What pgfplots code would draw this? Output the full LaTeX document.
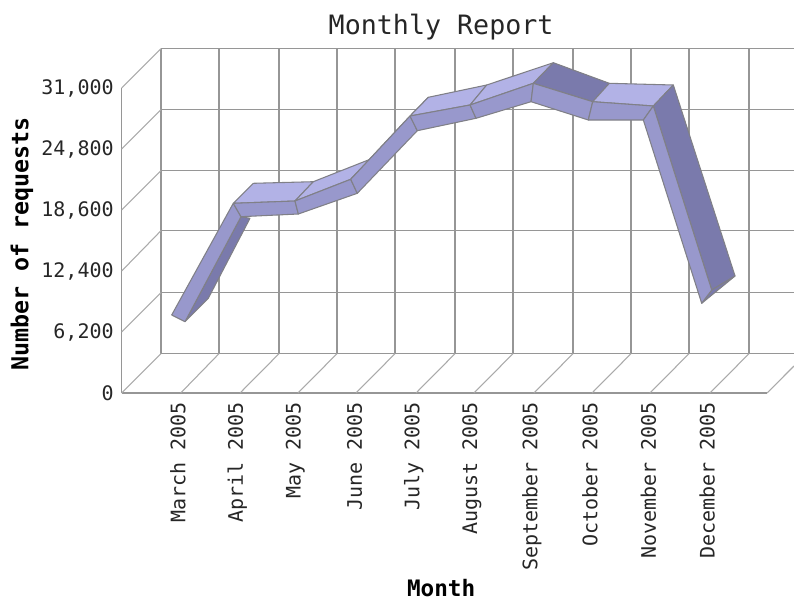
\documentclass[border=0pt]{standalone}
\usepackage{fontspec}
\setmainfont{DejaVu Sans Mono}
\usepackage{pgfplots}
\pgfplotsset{compat=1.18}

\definecolor{gridline}{RGB}{150,150,150}
\definecolor{gridthin}{RGB}{170,170,170}
\definecolor{ribedge}{RGB}{128,128,135}
\definecolor{riblight}{RGB}{178,178,230}
\definecolor{ribmid}{RGB}{152,152,204}
\definecolor{ribdark}{RGB}{122,122,172}

\pgfplotsset{
  light/.style={fill=riblight, draw=ribedge, line width=0.8pt, line join=round, mark=none},
  mid/.style={fill=ribmid, draw=ribedge, line width=0.8pt, line join=round, mark=none},
  dark/.style={fill=ribdark, draw=ribedge, line width=0.8pt, line join=round, mark=none},
}

\begin{document}
\begin{tikzpicture}
\begin{axis}[
    scale only axis,
    width=483.98pt, height=228.75pt,
    xmin=0, xmax=11, ymin=0, ymax=31000,
    clip=false,
    axis x line=bottom, axis y line=left,
    axis line style={gridline, line width=1.1pt, -},
    tick style={draw=none},
    major tick length=0pt,
    unbounded coords=jump,
    ytick={0,6200,12400,18600,24800,31000},
    scaled y ticks=false,
    yticklabel={\pgfmathprintnumber[fixed, precision=0, 1000 sep={,}, assume math mode=true]{\tick}},
    yticklabel style={font=\fontsize{15}{17}\selectfont, text=black!85, xshift=-2.5pt},
    xtick={0.96,1.97,2.96,3.97,4.98,5.97,6.99,7.98,8.98,9.98},
    xticklabels={March 2005,April 2005,May 2005,June 2005,July 2005,August 2005,September 2005,October 2005,November 2005,December 2005},
    xticklabel style={rotate=90, anchor=east, font=\fontsize{15}{17}\selectfont, text=black!85, xshift=-3.5pt},
    title={Monthly Report},
    title style={at={(axis description cs:0.495,1.174)}, anchor=center, font=\fontsize{20}{23}\selectfont, text=black!85},
    xlabel={Month},
    xlabel style={at={(axis description cs:0.495,-0.64)}, anchor=center, font=\fontsize{17}{20}\selectfont\bfseries},
    ylabel={Number of requests},
    ylabel style={at={(axis description cs:-0.1545,0.489)}, anchor=center, font=\fontsize{17.5}{20}\selectfont\bfseries},
]

% back wall, horizontals
\addplot[gridline, line width=1.1pt, mark=none] table {
0.67 35000
11.46 35000
0.67 nan
0.67 28800
11.46 28800
0.67 nan
0.67 22600
11.46 22600
0.67 nan
0.67 16500
11.46 16500
0.67 nan
0.67 10200
11.46 10200
0.67 nan
0.67 4000
11.46 4000
};
% back wall, verticals
\addplot[gridline, line width=1.1pt, mark=none] table {
0.67 4000
0.67 35000
0.67 nan
1.659 4000
1.659 35000
1.659 nan
2.682 4000
2.682 35000
2.682 nan
3.670 4000
3.670 35000
3.670 nan
4.659 4000
4.659 35000
4.659 nan
5.682 4000
5.682 35000
5.682 nan
6.670 4000
6.670 35000
6.670 nan
7.693 4000
7.693 35000
7.693 nan
8.682 4000
8.682 35000
8.682 nan
9.670 4000
9.670 35000
9.670 nan
10.693 4000
10.693 35000
};
% side wall diagonals
\addplot[gridthin, line width=0.8pt, mark=none] table {
0 31000
0.67 35000
0 nan
0 24800
0.67 28800
0 nan
0 18600
0.67 22600
0 nan
0 12400
0.67 16500
0 nan
0 6200
0.67 10200
0 nan
0 0
0.67 4000
};
% floor diagonals
\addplot[gridthin, line width=0.8pt, mark=none] table {
1.006 0
1.659 4000
1.006 nan
2.017 0
2.682 4000
2.017 nan
3.005 0
3.670 4000
3.005 nan
3.994 0
4.659 4000
3.994 nan
5.017 0
5.682 4000
5.017 nan
6.005 0
6.670 4000
6.005 nan
7.028 0
7.693 4000
7.028 nan
8.017 0
8.682 4000
8.017 nan
9.005 0
9.670 4000
9.005 nan
10.028 0
10.693 4000
10.028 nan
11 0
11.46 2744
};

% ribbon: underside and upper faces, left to right
\addplot[dark] coordinates {(1.079,7247) (1.476,9625) (2.187,17756) (2.034,17919) (1.079,7247)};
\addplot[light] coordinates {(1.902,19281) (2.243,21314) (3.266,21476) (2.954,19515) (1.902,19281)};
\addplot[light] coordinates {(2.954,19515) (3.266,21476) (4.233,23753) (3.904,21720) (2.954,19515)};
\addplot[light] coordinates {(3.904,21720) (4.233,23753) (5.227,30055) (4.915,28154) (3.904,21720)};
\addplot[light] coordinates {(4.915,28154) (5.227,30055) (6.222,31305) (5.938,29272) (4.915,28154)};
\addplot[light] coordinates {(5.938,29272) (6.222,31305) (7.358,33572) (7.017,31478) (5.938,29272)};
\addplot[dark] coordinates {(7.017,31478) (7.358,33572) (8.312,31478) (8.029,29608) (7.017,31478)};
\addplot[light] coordinates {(8.029,29608) (8.312,31478) (9.403,31305) (9.062,29171) (8.029,29608)};
\addplot[dark] coordinates {(9.062,29171) (9.403,31305) (10.455,11892) (10.058,10469) (9.062,29171)};
\addplot[dark] coordinates {(9.887,9117) (10.058,10469) (10.455,11892) (9.887,9117)};

% ribbon: front faces
\addplot[mid] coordinates {(0.852,7928) (1.902,19281) (2.034,17919) (1.079,7247) (0.852,7928)};
\addplot[mid] coordinates {(1.902,19281) (2.954,19515) (3.011,18194) (2.034,17919) (1.902,19281)};
\addplot[mid] coordinates {(2.954,19515) (3.904,21720) (4.016,20297) (3.011,18194) (2.954,19515)};
\addplot[mid] coordinates {(3.904,21720) (4.915,28154) (5.039,26660) (4.016,20297) (3.904,21720)};
\addplot[mid] coordinates {(4.915,28154) (5.938,29272) (6.040,27921) (5.039,26660) (4.915,28154)};
\addplot[mid] coordinates {(5.938,29272) (7.017,31478) (6.978,29608) (6.040,27921) (5.938,29272)};
\addplot[mid] coordinates {(7.017,31478) (8.029,29608) (7.954,27748) (6.978,29608) (7.017,31478)};
\addplot[mid] coordinates {(8.029,29608) (9.062,29171) (8.892,27748) (7.954,27748) (8.029,29608)};
\addplot[mid] coordinates {(9.062,29171) (10.058,10469) (9.887,9117) (8.892,27748) (9.062,29171)};

\end{axis}
\pgfresetboundingbox
\path[use as bounding box] (-91.275pt,-156pt) rectangle (504.225pt,294.75pt);
\end{tikzpicture}
\end{document}
